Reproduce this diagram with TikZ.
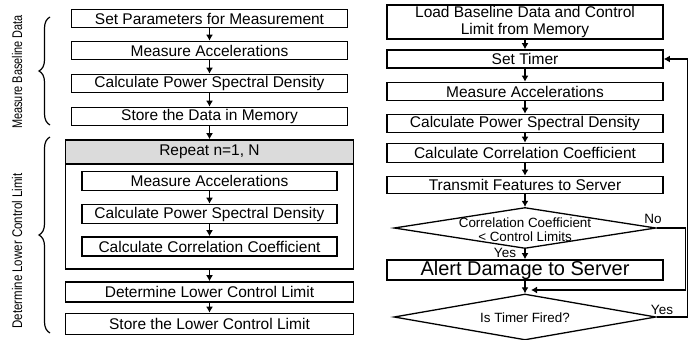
\documentclass[tikz,border=0pt]{standalone}
\usepackage{fontspec}
\setmainfont{Liberation Sans}
\usepackage{graphicx}
\usetikzlibrary{shapes.geometric,arrows.meta,decorations.pathreplacing}

\tikzset{
	box/.style={draw, line width=1.6pt, minimum width=276pt, minimum height=18pt, inner sep=0pt, font=\fontsize{15.5}{17}\selectfont},
	decision/.style={draw, diamond, line width=1.3pt, minimum width=262pt, minimum height=41pt, inner sep=0pt},
	dtext/.style={align=center, inner sep=0pt, font=\fontsize{13.4}{14}\selectfont},
	arr/.style={-{Latex[length=6pt,width=7pt]}, line width=1.4pt},
	tag/.style={inner sep=0pt, font=\fontsize{13.5}{15}\selectfont},
	vlabel/.style={rotate=90, inner sep=0pt, font=\fontsize{14}{16}\selectfont},
	bracket/.style={decorate, decoration={brace, amplitude=11pt}, line width=1.2pt}
}

\begin{document}
\begin{tikzpicture}[x=1pt, y=-1pt]
			\useasboundingbox (0,0) rectangle (689,340);

			% Measure baseline data
			\node[box] (setpar) at (209.5,18.5) {Set Parameters for Measurement};
			\node[box] (accA) at (209.5,50.5) {Measure Accelerations};
			\node[box] (psdA) at (209.5,83.5) {Calculate Power Spectral Density};
			\node[box] (store) at (209.5,116.5) {Store the Data in Memory};

			% Repeat loop
			\node[draw, line width=1.6pt, minimum width=288pt, minimum height=128pt, anchor=north] (loop) at (209.5,140) {};
			\node[box, fill=gray!28, minimum width=288pt, minimum height=24pt] (repeat) at (209.5,152) {Repeat n=1, N};
			\node[box, minimum width=255pt, minimum height=19pt] (accB) at (209.5,181) {Measure Accelerations};
			\node[box, minimum width=255pt, minimum height=19pt] (psdB) at (209.5,214) {Calculate Power Spectral Density};
			\node[box, minimum width=255pt, minimum height=19pt] (corrB) at (209.5,246.5) {Calculate Correlation Coefficient};

			% Control limit
			\node[box, minimum width=288pt, minimum height=20pt] (lower) at (209.5,292) {Determine Lower Control Limit};
			\node[box, minimum width=288pt, minimum height=21pt] (keep) at (209.5,324) {Store the Lower Control Limit};

			\draw[arr] (setpar) -- (accA);
			\draw[arr] (accA) -- (psdA);
			\draw[arr] (psdA) -- (store);
			\draw[arr] (store) -- (repeat);
			\draw[arr] (accB) -- (psdB);
			\draw[arr] (psdB) -- (corrB);
			\draw[arr] (loop) -- (lower);
			\draw[arr] (lower) -- (keep);

			% Braces
			\draw[bracket] (50,125) -- (50,17);
			\draw[bracket] (50,333) -- (50,137);
			\node[vlabel] (mbd) at (17,72) {\scalebox{0.78}[1]{Measure Baseline Data}};
			\node[vlabel] (dlcl) at (17,251) {\scalebox{0.82}[1]{Determine Lower Control Limit}};

			% Monitoring
			\node[box, minimum height=34pt, align=center] (load) at (525,22) {Load Baseline Data and Control\\Limit from Memory};
			\node[box] (timer) at (525,59) {Set Timer};
			\node[box] (accC) at (525,91.5) {Measure Accelerations};
			\node[box] (psdC) at (525,123.5) {Calculate Power Spectral Density};
			\node[box, minimum height=19pt] (corrC) at (525,153) {Calculate Correlation Coefficient};
			\node[box, minimum height=17pt] (send) at (525,185) {Transmit Features to Server};
			\node[decision] (check) at (525,228) {};
			\node[dtext] (checktxt) at (525,230) {Correlation Coefficient\\< Control Limits};
			\node[box, minimum height=20pt, text height=14pt, text depth=3pt, font=\fontsize{20}{22}\selectfont] (alert) at (525,270) {Alert Damage to Server};
			\node[decision, minimum height=46pt] (fired) at (525,317) {};
			\node[dtext] (firedtxt) at (525,318) {Is Timer Fired?};
			\coordinate (nojoin) at (531,290);

			\draw[arr] (load) -- (timer);
			\draw[arr] (timer) -- (accC);
			\draw[arr] (accC) -- (psdC);
			\draw[arr] (psdC) -- (corrC);
			\draw[arr] (corrC) -- (send);
			\draw[arr] (send) -- (check);
			\draw[arr] (check) -- (alert);
			\draw[arr] (alert) -- (fired);
			\draw[arr] (check.east) -- ++(29,0) |- (nojoin);
			\draw[arr] (fired.east) -- ++(31,0) |- (timer.east);

			% Branch labels
			\node[tag] (yesA) at (505,253) {Yes};
			\node[tag] (noA) at (653,219) {No};
			\node[tag] (yesB) at (662,310) {Yes};
\end{tikzpicture}
\end{document}
